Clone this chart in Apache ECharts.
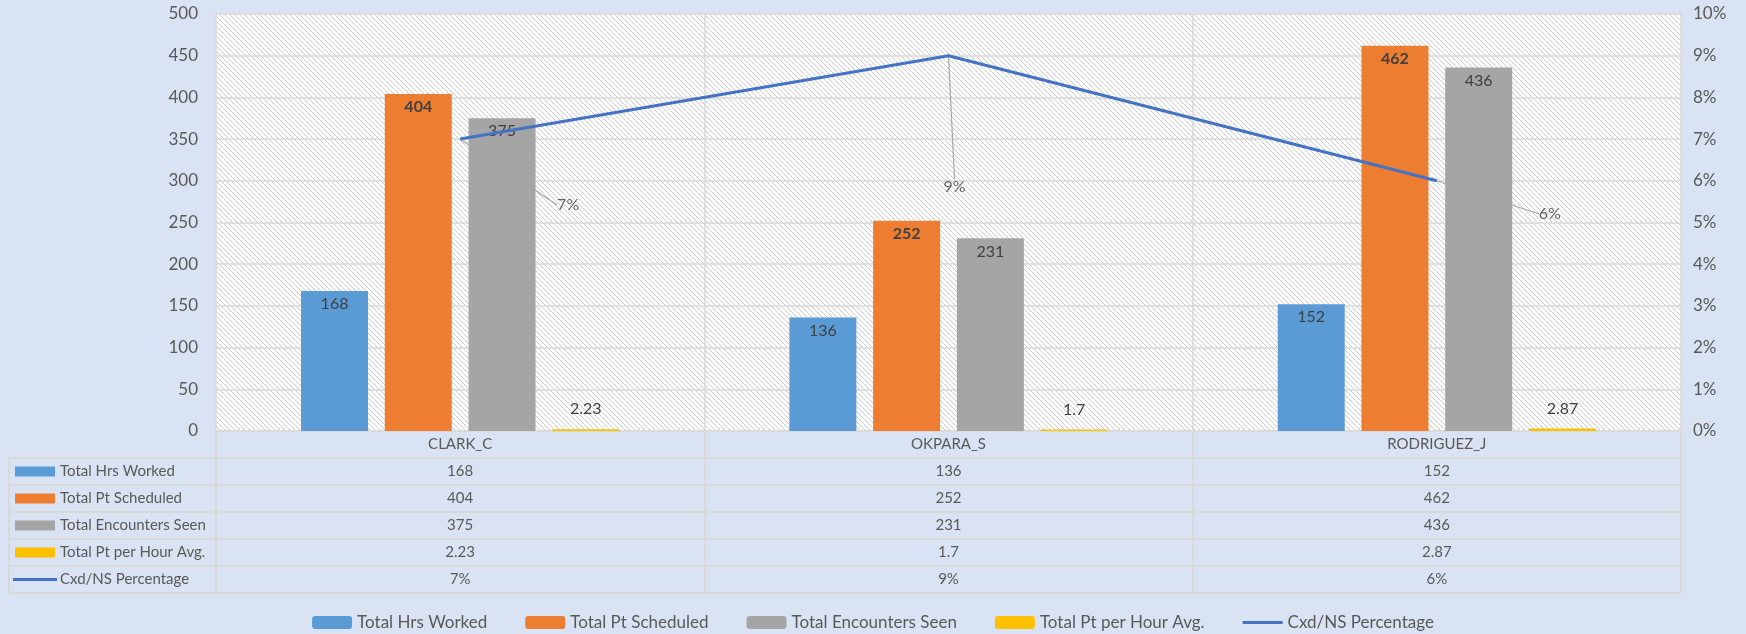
<!DOCTYPE html>
<html>
<head>
<meta charset="utf-8">
<script src="https://cdn.jsdelivr.net/npm/echarts@6/dist/echarts.min.js"></script>
<style>
  html, body { margin: 0; padding: 0; background: #dae3f3; }
  #chart { width: 1746px; height: 634px; }
</style>
</head>
<body>
<div id="chart"></div>
<script>
// Providers shown along the category axis
const categories = ['CLARK_C', 'OKPARA_S', 'RODRIGUEZ_J'];

// Series values per provider
const hrsWorked = [168, 136, 152];
const ptScheduled = [404, 252, 462];
const encountersSeen = [375, 231, 436];
const ptPerHour = [2.23, 1.7, 2.87];
const cxdNsPct = [0.07, 0.09, 0.06];

// Series names (legend + data table row headers)
const seriesNames = [
  'Total Hrs Worked',
  'Total Pt Scheduled',
  'Total Encounters Seen',
  'Total Pt per Hour Avg.',
  'Cxd/NS Percentage'
];

// Axis ranges
const leftMax = 500, leftStep = 50;
const rightMax = 0.1, rightStep = 0.01;

const colors = ['#5b9bd5', '#ed7d31', '#a5a5a5', '#ffc000', '#4472c4'];
const textColor = '#595959';
const labelColor = '#404040';
const gridColor = '#d9d9d9';
const fontFamily = 'Lato';

// offset of each percentage label from its point (pixels)
const pctLabelOffsets = [[108, 66], [6, 131], [113, 33]];

const fmtPct = v => Math.round(v * 100) + '%';

// thin line legend icon (transparent moves keep the 40x13 box)
const lineIcon = 'path://M0,0L40,0M0,5L40,5L40,8L0,8ZM0,13L40,13';

// diagonal hatch fill for the plot background
function hatchPattern() {
  const n = 10;
  const c = document.createElement('canvas');
  c.width = n; c.height = n;
  const g = c.getContext('2d');
  g.fillStyle = '#ffffff';
  g.fillRect(0, 0, n, n);
  g.fillStyle = '#cdcdcd';
  for (let y = 0; y < n; y++) {
    for (let x = 0; x < n; x++) {
      if ((((x - y) % 5) + 5) % 5 === 0) g.fillRect(x, y, 1, 1);
    }
  }
  return c;
}

const chart = echarts.init(document.getElementById('chart'), null, { renderer: 'canvas' });

function barSeries(idx, data, labelOpts) {
  return {
    name: seriesNames[idx],
    type: 'bar',
    data: data,
    barWidth: 67,
    barGap: '25%',
    z: 2,
    itemStyle: { color: colors[idx] },
    label: Object.assign({
      show: true,
      position: 'insideTop',
      distance: 5,
      color: labelColor,
      fontSize: 16,
      fontFamily: fontFamily
    }, labelOpts || {})
  };
}

const option = {
  backgroundColor: '#dae3f3',
  animation: false,
  textStyle: { fontFamily: fontFamily },
  grid: {
    left: 216,
    right: 65,
    top: 14,
    bottom: 203,
    show: true,
    borderWidth: 0,
    backgroundColor: { image: hatchPattern(), repeat: 'repeat' }
  },
  legend: {
    data: seriesNames.map((n, i) => (i === 4 ? { name: n, icon: lineIcon } : { name: n })),
    top: 609,
    left: 'center',
    itemWidth: 40,
    itemHeight: 13,
    itemGap: 38,
    textStyle: { color: textColor, fontSize: 17, fontFamily: fontFamily }
  },
  xAxis: {
    type: 'category',
    data: categories,
    boundaryGap: true,
    axisLine: { show: true, lineStyle: { color: gridColor, width: 1.5 } },
    axisTick: { show: true, length: 162, lineStyle: { color: gridColor, width: 2 } },
    axisLabel: { color: textColor, fontSize: 15, margin: 6, fontFamily: fontFamily },
    splitLine: { show: true, lineStyle: { color: gridColor, width: 1.5 } }
  },
  yAxis: [
    {
      type: 'value',
      min: 0,
      max: leftMax,
      interval: leftStep,
      axisLine: { show: false },
      axisTick: { show: false },
      axisLabel: { color: textColor, fontSize: 17, margin: 18, fontFamily: fontFamily },
      splitLine: { show: true, lineStyle: { color: gridColor, width: 1.5 } }
    },
    {
      type: 'value',
      min: 0,
      max: rightMax,
      interval: rightStep,
      axisLine: { show: false },
      axisTick: { show: false },
      axisLabel: { color: textColor, fontSize: 17, margin: 12, fontFamily: fontFamily, formatter: fmtPct },
      splitLine: { show: false }
    }
  ],
  series: [
    barSeries(0, hrsWorked),
    barSeries(1, ptScheduled, { fontWeight: 'bold' }),
    barSeries(2, encountersSeen),
    barSeries(3, ptPerHour, { position: 'top', distance: 12 }),
    {
      name: seriesNames[4],
      type: 'line',
      yAxisIndex: 1,
      data: cxdNsPct,
      symbol: 'none',
      z: 3,
      lineStyle: { color: colors[4], width: 3 },
      itemStyle: { color: colors[4] }
    },
    {
      // percentage labels with leader lines, kept beneath the bars
      name: 'pctLabels',
      type: 'scatter',
      yAxisIndex: 1,
      data: cxdNsPct,
      symbolSize: 1,
      z: 1,
      silent: true,
      itemStyle: { color: 'rgba(0,0,0,0)' },
      label: {
        show: true,
        formatter: p => fmtPct(p.value),
        color: labelColor,
        fontSize: 16,
        fontFamily: fontFamily
      },
      labelLine: { show: true, lineStyle: { color: '#a6a6a6', width: 1.2 } },
      labelLayout: function (p) {
        const o = pctLabelOffsets[p.dataIndex];
        return {
          x: p.rect.x + p.rect.width / 2 + o[0],
          y: p.rect.y + p.rect.height / 2 + o[1],
          align: 'center',
          verticalAlign: 'middle'
        };
      }
    }
  ]
};

chart.setOption(option);

// Data table under the category axis
function buildTable() {
  const xs = categories.map(c => chart.convertToPixel({ xAxisIndex: 0 }, c));
  const band = xs[1] - xs[0];
  const plotRight = xs[xs.length - 1] + band / 2;
  const yZero = chart.convertToPixel({ yAxisIndex: 0 }, 0);
  const rowH = 27;
  const tableTop = yZero + rowH;
  const tableLeft = 9;
  const rows = [hrsWorked, ptScheduled, encountersSeen, ptPerHour, cxdNsPct];
  const fmt = [String, String, String, String, fmtPct];
  const els = [];

  for (let i = 0; i <= rows.length; i++) {
    const y = tableTop + i * rowH;
    els.push({
      type: 'line', silent: true,
      shape: { x1: tableLeft, y1: y, x2: plotRight, y2: y },
      style: { stroke: gridColor, lineWidth: 2 }
    });
  }
  els.push({
    type: 'line', silent: true,
    shape: { x1: tableLeft, y1: tableTop, x2: tableLeft, y2: tableTop + rows.length * rowH },
    style: { stroke: gridColor, lineWidth: 2 }
  });

  rows.forEach((vals, r) => {
    const cy = tableTop + r * rowH + rowH / 2;
    if (r < 4) {
      els.push({
        type: 'rect', silent: true,
        shape: { x: 15, y: cy - 5, width: 40, height: 10 },
        style: { fill: colors[r] }
      });
    } else {
      els.push({
        type: 'line', silent: true,
        shape: { x1: 13, y1: cy, x2: 57, y2: cy },
        style: { stroke: colors[4], lineWidth: 3 }
      });
    }
    els.push({
      type: 'text', silent: true,
      x: 60, y: cy,
      style: {
        text: seriesNames[r], fill: textColor, fontSize: 15, fontFamily: fontFamily,
        textAlign: 'left', textVerticalAlign: 'middle'
      }
    });
    vals.forEach((v, j) => {
      els.push({
        type: 'text', silent: true,
        x: xs[j], y: cy,
        style: {
          text: fmt[r](v), fill: textColor, fontSize: 15, fontFamily: fontFamily,
          textAlign: 'center', textVerticalAlign: 'middle'
        }
      });
    });
  });

  chart.setOption({ graphic: { elements: els } });
}

buildTable();
</script>
</body>
</html>
